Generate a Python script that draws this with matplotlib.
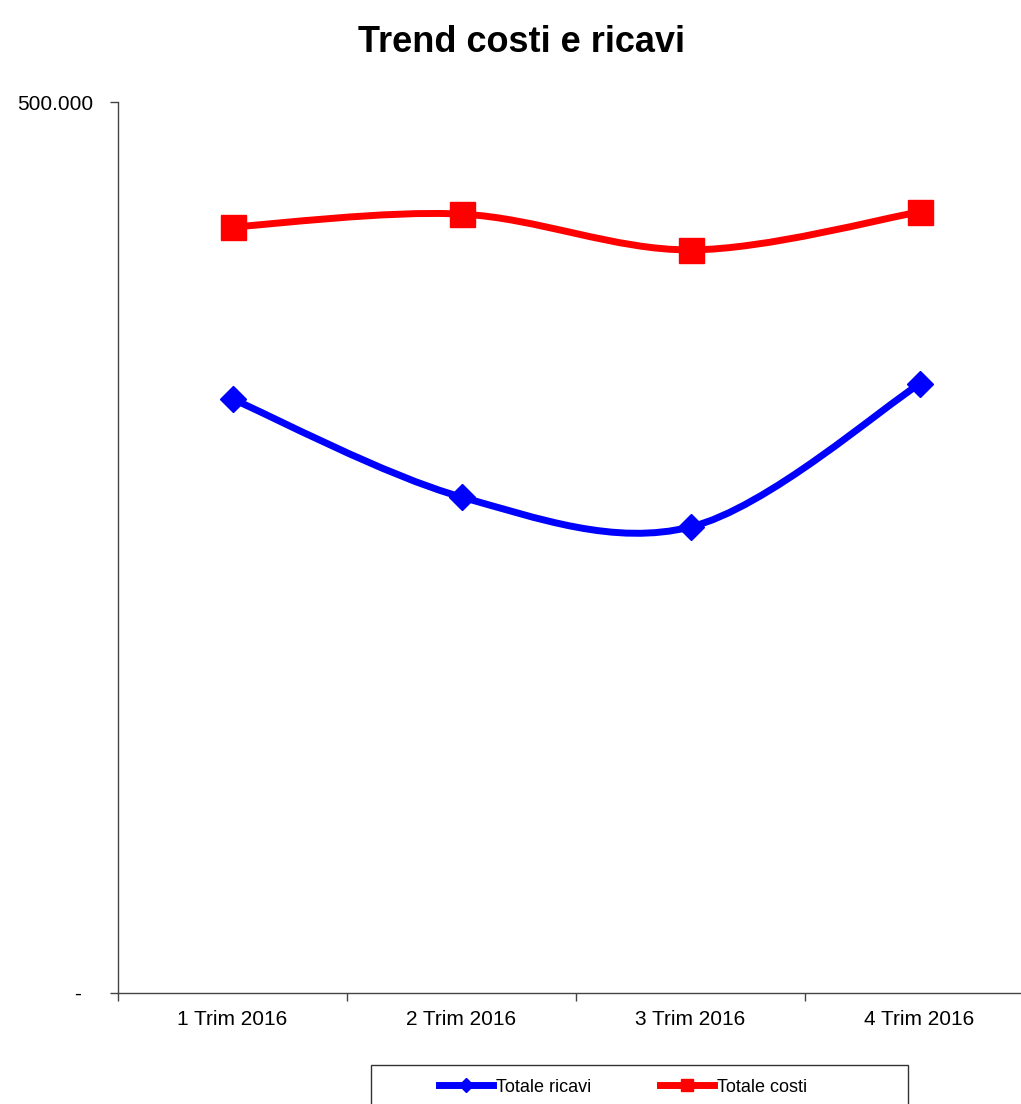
import matplotlib
matplotlib.use("Agg")
import matplotlib.pyplot as plt
from matplotlib.path import Path
from matplotlib.patches import PathPatch, Rectangle
from matplotlib.lines import Line2D
import numpy as np

categories = ["1 Trim 2016", "2 Trim 2016", "3 Trim 2016", "4 Trim 2016"]
ricavi = [333300, 278300, 261500, 341700]
costi = [429900, 437100, 417000, 438300]
series_names = ["Totale ricavi", "Totale costi"]
title = "Trend costi e ricavi"

plt.rcParams['font.family'] = ['Liberation Sans', 'DejaVu Sans']

W, H = 1021, 1104
fig = plt.figure(figsize=(W / 100, H / 100), dpi=100)
left, right, top, bottom = 118, 1034, 102, 993
ax = fig.add_axes([left / W, 1 - bottom / H, (right - left) / W, (bottom - top) / H])
ax.set_xlim(-0.5, 3.5)
ax.set_ylim(0, 500000)


def smooth_path(xs, ys):
    pts = np.column_stack([xs, ys]).astype(float)
    n = len(pts)
    verts = [pts[0]]
    codes = [Path.MOVETO]
    for i in range(n - 1):
        p0 = pts[i - 1] if i > 0 else pts[i]
        p1 = pts[i]
        p2 = pts[i + 1]
        p3 = pts[i + 2] if i + 2 < n else pts[i + 1]
        c1 = p1 + (p2 - p0) / 6.0
        c2 = p2 - (p3 - p1) / 6.0
        verts += [c1, c2, p2]
        codes += [Path.CURVE4] * 3
    return Path(verts, codes)


x = np.arange(len(categories))
for vals, color, marker, ms in [(ricavi, "#0000FF", "D", 13.5), (costi, "#FF0000", "s", 18)]:
    patch = PathPatch(smooth_path(x, vals), facecolor="none", edgecolor=color,
                      lw=5, capstyle="round", joinstyle="round", zorder=2)
    ax.add_patch(patch)
    ax.plot(x, vals, linestyle="none", marker=marker, markersize=ms,
            color=color, markeredgecolor=color, zorder=3)

for s in ["top", "right"]:
    ax.spines[s].set_visible(False)
for s in ["left", "bottom"]:
    ax.spines[s].set_color("#444444")
    ax.spines[s].set_linewidth(1.0)

ax.set_yticks([0, 500000])
ax.set_yticklabels(["-  ", "500.000"], fontsize=15)
ax.tick_params(axis="y", length=6, width=1, color="#444444", pad=11.5)

ax.set_xticks(x)
ax.set_xticklabels(categories, fontsize=15)
ax.set_xticks([-0.5, 0.5, 1.5, 2.5], minor=True)
ax.tick_params(axis="x", which="major", length=0, pad=12.5)
ax.tick_params(axis="x", which="minor", length=6, width=1, color="#444444")

fig.text(521 / W, 1 - 42 / H, title, ha="center", va="center", fontsize=26,
         fontweight="bold", family=["Liberation Sans Narrow", "Liberation Sans", "DejaVu Sans"])

# legend frame (extends past the bottom edge as in the reference)
fig.patches.append(Rectangle((371 / W, 1 - 1130 / H), (908 - 371) / W, (1130 - 1065) / H,
                             transform=fig.transFigure, facecolor="white",
                             edgecolor="#333333", lw=1.0, clip_on=False, zorder=1))
handles = [
    Line2D([], [], color="#0000FF", lw=5, marker="D", markersize=7),
    Line2D([], [], color="#FF0000", lw=5, marker="s", markersize=9),
]
leg = fig.legend(handles, series_names, loc="center",
                 bbox_to_anchor=(623 / W, 1 - 1087 / H),
                 ncol=2, fontsize=13, frameon=False,
                 handlelength=3.0, handletextpad=0.15, borderaxespad=0,
                 borderpad=0, columnspacing=3.8)
leg.set_zorder(2)

fig.savefig("out.png", dpi=100)
